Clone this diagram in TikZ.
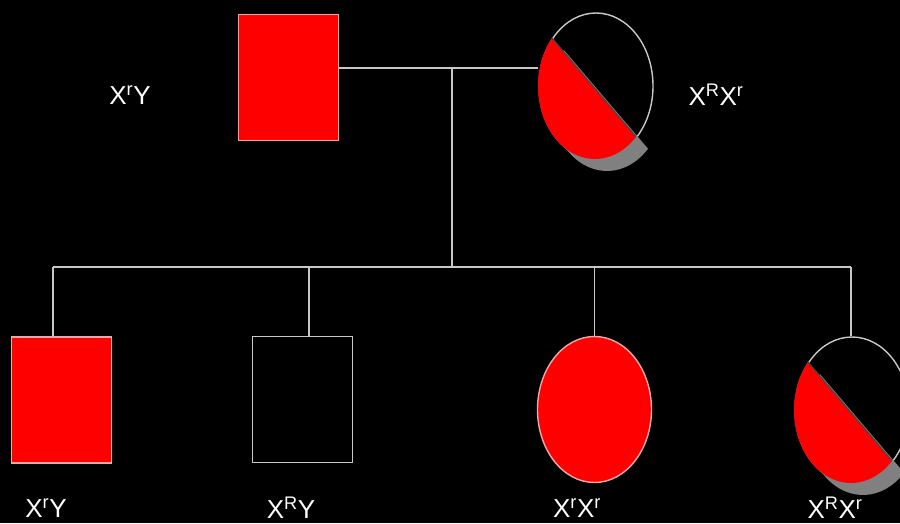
\documentclass[tikz,border=0pt]{standalone}
\usepackage{fontspec}
\setmainfont{Liberation Sans}
\usetikzlibrary{shapes.geometric}
\definecolor{linegray}{RGB}{200,200,200}
\definecolor{redrim}{RGB}{235,170,170}
\definecolor{shadowgray}{RGB}{128,128,128}
\definecolor{chordgray}{RGB}{70,70,70}
\begin{document}
\begin{tikzpicture}[x=1pt,y=1pt,
  link/.style={draw=linegray,line width=1.8pt},
  male/.style={rectangle,minimum width=100pt,minimum height=126pt,inner sep=0pt,line width=1.4pt},
  female/.style={ellipse,minimum width=114pt,minimum height=146pt,inner sep=0pt,line width=1.4pt},
  affected/.style={fill=red,draw=redrim},
  unaffected/.style={draw=linegray},
  geno/.style={text=white,font=\fontsize{26}{30}\selectfont,inner sep=0pt}]
% canvas
\fill[black] (0,0) rectangle (900,-523);
\useasboundingbox (0,0) rectangle (900,-523);

% carrier symbol: lower-left half filled, with a grey drop shadow
\newcommand\carrier[1]{%
  \begin{scope}[shift={(#1.center)}]
    \fill[shadowgray] (11,-12) ++(139:57 and 73) arc[start angle=139,end angle=316,x radius=57,y radius=73] -- cycle;
    \fill[red] (-1,0) ++(139:57 and 73) arc[start angle=139,end angle=316,x radius=57,y radius=73] -- cycle;
    \draw[chordgray,line width=1.2pt] ({-1+57*cos(139)},{73*sin(139)}) -- ({-1+57*cos(316)},{73*sin(316)});
  \end{scope}}

% parents
\node[male,affected] (father) at (288.5,-77.5) {};
\node[female,unaffected] (mother) at (596,-86) {};
\carrier{mother}

% children
\node[male,affected] (c1) at (61.5,-400) {};
\node[male,unaffected] (c2) at (302.5,-399.5) {};
\node[female,affected] (c3) at (594.5,-409.5) {};
\node[female,unaffected] (c4) at (852,-410) {};
\carrier{c4}

% mating and sibship lines
\coordinate (m) at (452,-68);
\coordinate (s) at (452,-267);
\coordinate (d1) at (53,-267);
\coordinate (d2) at (309,-267);
\coordinate (d3) at (594.5,-267);
\coordinate (d4) at (851,-267);
\draw[link] (father.east |- m) -- (m) -- (m -| mother.west);
\draw[link] (m) -- (s);
\draw[link] (d1) -- (d4);
\draw[link] (d1) -- (d1 |- c1.north);
\draw[link] (d2) -- (d2 |- c2.north);
\draw[link] (d3) -- (c3.north);
\draw[link] (d4) -- (d4 |- c4.north);

% genotypes
\node[geno] (gf) at (130,-95) {X\textsuperscript{r}Y};
\node[geno] (gm) at (716,-95) {X\textsuperscript{R}X\textsuperscript{r}};
\node[geno] (g1) at (46,-508) {X\textsuperscript{r}Y};
\node[geno] (g2) at (291,-508) {X\textsuperscript{R}Y};
\node[geno] (g3) at (577,-508) {X\textsuperscript{r}X\textsuperscript{r}};
\node[geno] (g4) at (835,-508) {X\textsuperscript{R}X\textsuperscript{r}};
\end{tikzpicture}
\end{document}
